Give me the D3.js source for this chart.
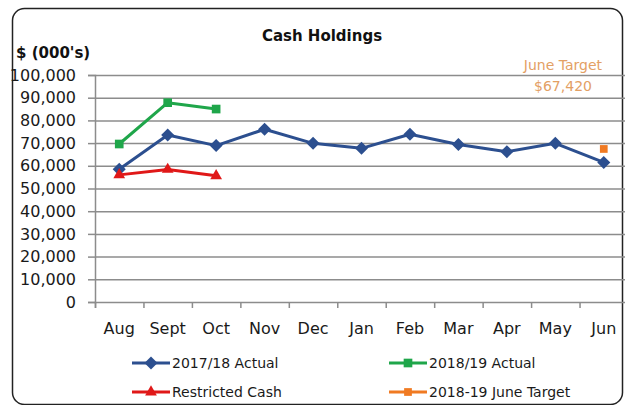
<!DOCTYPE html>
<html>
<head>
<meta charset="utf-8">
<script src="https://cdn.jsdelivr.net/npm/d3@7"></script>
<style>
	html, body { margin: 0; padding: 0; background: #fff; }
	svg { display: block; font-family: "DejaVu Sans", sans-serif; }
</style>
</head>
<body>
<svg id="chart" width="625" height="405"></svg>
<script>
'use strict';

// data
const months = ['Aug', 'Sept', 'Oct', 'Nov', 'Dec', 'Jan', 'Feb', 'Mar', 'Apr', 'May', 'Jun'];
const actual1718 = [58500, 73600, 68900, 76100, 69900, 67700, 73900, 69400, 66200, 69900, 61500];
const actual1819 = [69600, 87800, 85000];
const restrictedCash = [56000, 58400, 55600];
const targetMonths = ['Jun'];
const juneTarget = [67420];
const yTicks = [0, 10000, 20000, 30000, 40000, 50000, 60000, 70000, 80000, 90000, 100000];

const svg = d3.select('#chart');
const margin = {top: 75, left: 95, right: 628, bottom: 302};

const x = d3.scaleBand().domain(months).range([margin.left, margin.right]).padding(0);
const xEdge = d3.scaleLinear().domain([0, months.length]).range([margin.left, margin.right]);
const y = d3.scaleLinear().domain([0, 100000]).range([margin.bottom, margin.top]);
const cx = m => x(m) + x.bandwidth() / 2;

// frame
svg.append('rect')
	.attr('x', 12.5).attr('y', 8.5)
	.attr('width', 610).attr('height', 396)
	.attr('rx', 12)
	.attr('fill', 'none')
	.attr('stroke', '#222')
	.attr('stroke-width', 1.5);

// grid
svg.append('g')
	.attr('transform', 'translate(' + margin.left + ',0)')
	.call(d3.axisLeft(y).tickValues(yTicks.slice(1)).tickSize(-(margin.right - margin.left)).tickFormat(''))
	.call(g => g.select('.domain').remove())
	.selectAll('line').attr('stroke', '#8c8c8c').attr('stroke-width', 1.5);

// y axis
svg.append('g')
	.attr('transform', 'translate(' + margin.left + ',0)')
	.call(d3.axisLeft(y).tickValues(yTicks).tickSize(7).tickPadding(12).tickFormat(d3.format(',')))
	.call(g => g.select('.domain').attr('stroke', '#8c8c8c').attr('stroke-width', 1.5))
	.call(g => g.selectAll('line').attr('stroke', '#8c8c8c').attr('stroke-width', 1.5))
	.call(g => g.selectAll('text').attr('font-size', 16).attr('fill', '#1a1a1a')
		.attr('font-family', '"DejaVu Sans", sans-serif'));

// x axis ticks at category edges
svg.append('g')
	.attr('transform', 'translate(0,' + margin.bottom + ')')
	.call(d3.axisBottom(xEdge).tickValues(d3.range(0, months.length + 1)).tickSize(6).tickFormat(''))
	.call(g => g.select('.domain').attr('stroke', '#8c8c8c').attr('stroke-width', 1.5))
	.call(g => g.selectAll('line').attr('stroke', '#8c8c8c').attr('stroke-width', 1.5));

// x labels
svg.append('g')
	.attr('transform', 'translate(0,' + margin.bottom + ')')
	.call(d3.axisBottom(x).tickSize(0).tickPadding(21))
	.call(g => g.select('.domain').remove())
	.call(g => g.selectAll('text').attr('font-size', 16).attr('fill', '#1a1a1a')
		.attr('font-family', '"DejaVu Sans", sans-serif'));

// series (diamond = square turned 45deg)
const series = [
	{name: '2017/18 Actual', values: actual1718, cats: months, color: '#2c4f8f', marker: d3.symbolSquare, size: 85, rot: 45},
	{name: '2018/19 Actual', values: actual1819, cats: months, color: '#1fa64a', marker: d3.symbolSquare, size: 75, rot: 0},
	{name: 'Restricted Cash', values: restrictedCash, cats: months, color: '#e01818', marker: d3.symbolTriangle, size: 60, rot: 0},
	{name: '2018-19 June Target', values: juneTarget, cats: targetMonths, color: '#f07a22', marker: d3.symbolSquare, size: 60, rot: 0}
];

const line = d3.line().x(d => cx(d.m)).y(d => y(d.v));

series.forEach(s => {
	const pts = s.values.map((v, i) => ({m: s.cats[i], v}));
	svg.append('path')
		.datum(pts)
		.attr('d', line)
		.attr('fill', 'none')
		.attr('stroke', s.color)
		.attr('stroke-width', 3)
		.attr('stroke-linejoin', 'round');
	svg.selectAll(null)
		.data(pts)
		.enter().append('path')
			.attr('transform', d => 'translate(' + cx(d.m) + ',' + y(d.v) + ') rotate(' + s.rot + ')')
			.attr('d', d3.symbol().type(s.marker).size(s.size))
			.attr('fill', s.color);
});

// title
svg.append('text')
	.attr('x', 322).attr('y', 41)
	.attr('text-anchor', 'middle')
	.attr('font-size', 15).attr('font-weight', 'bold')
	.attr('fill', '#111')
	.text('Cash Holdings');

svg.append('text')
	.attr('x', 16).attr('y', 58)
	.attr('font-size', 15).attr('font-weight', 'bold')
	.attr('fill', '#111')
	.text("$ (000's)");

// target annotation
svg.append('text')
	.attr('x', 563).attr('y', 70)
	.attr('text-anchor', 'middle')
	.attr('font-size', 14).attr('fill', '#e3a064')
	.text('June Target');
svg.append('text')
	.attr('x', 563).attr('y', 91)
	.attr('text-anchor', 'middle')
	.attr('font-size', 14).attr('fill', '#e3a064')
	.text('$' + d3.format(',')(juneTarget[0]));

// legend
const legendPos = [[132, 363], [389, 363], [132, 392], [389, 392]];
series.forEach((s, i) => {
	const [lx, ly] = legendPos[i];
	const g = svg.append('g').attr('transform', 'translate(' + lx + ',' + ly + ')');
	g.append('line')
		.attr('x1', 0).attr('x2', 38)
		.attr('stroke', s.color).attr('stroke-width', 3);
	g.append('path')
		.attr('transform', 'translate(19,0) rotate(' + s.rot + ')')
		.attr('d', d3.symbol().type(s.marker).size(s.size))
		.attr('fill', s.color);
	g.append('text')
		.attr('x', 40).attr('y', 5)
		.attr('font-size', 14).attr('fill', '#1a1a1a')
		.text(s.name);
});
</script>
</body>
</html>
